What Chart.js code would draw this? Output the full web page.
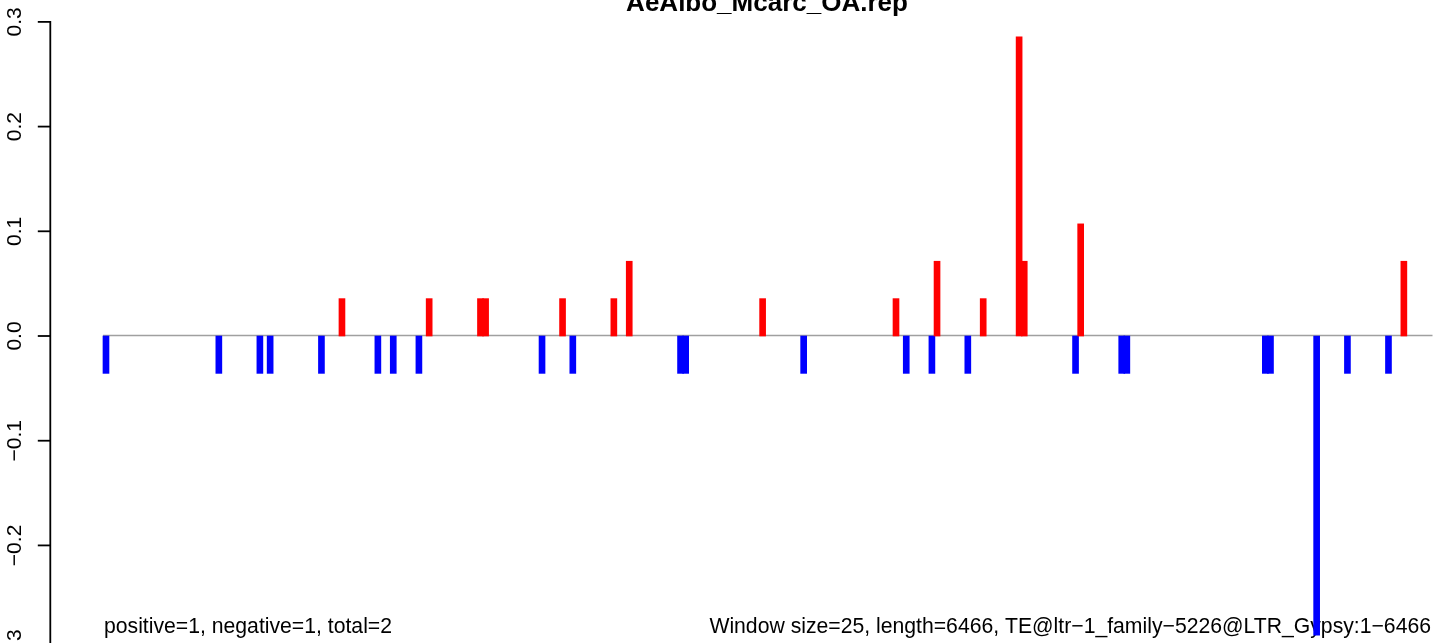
<!DOCTYPE html>
<html>
<head>
<meta charset="utf-8">
<script src="https://cdn.jsdelivr.net/npm/chart.js@4/dist/chart.umd.min.js"></script>
<style>
  html, body { margin: 0; padding: 0; background: #ffffff; }
  #wrap { width: 1433px; height: 643px; }
</style>
</head>
<body>
<div id="wrap"><canvas id="c" width="1433" height="643"></canvas></div>
<script>
// windows (25 bp each) with a positive score, and the scores
var posWindows = [47, 64, 74, 75, 90, 100, 103, 129, 155, 163, 172, 179, 180, 191, 254];
var posValues = [0.0357, 0.0357, 0.0357, 0.0357, 0.0357, 0.0357, 0.0714, 0.0357, 0.0357, 0.0714, 0.0357, 0.2857, 0.0714, 0.1071, 0.0714];

// windows with a negative score, and the scores
var negWindows = [1, 23, 31, 33, 43, 54, 57, 62, 86, 92, 113, 114, 137, 157, 162, 169, 190, 199, 200, 227, 228, 237, 243, 251];
var negValues = [-0.0357, -0.0357, -0.0357, -0.0357, -0.0357, -0.0357, -0.0357, -0.0357, -0.0357, -0.0357, -0.0357, -0.0357,
                 -0.0357, -0.0357, -0.0357, -0.0357, -0.0357, -0.0357, -0.0357, -0.0357, -0.0357, -0.2857, -0.0357, -0.0357];

var windowCount = 259;

// y axis ticks and their labels
var yTicks = [-0.3, -0.2, -0.1, 0.0, 0.1, 0.2, 0.3];
var yTickLabels = ['\u22120.3', '\u22120.2', '\u22120.1', '0.0', '0.1', '0.2', '0.3'];

var titleText = 'AeAlbo_Mcarc_OA.rep';
var leftNote = 'positive=1, negative=1, total=2';
var rightNote = 'Window size=25, length=6466, TE@ltr\u22121_family\u22125226@LTR_Gypsy:1\u22126466';

var FONT = '"Liberation Sans", Arial, Helvetica, sans-serif';

function toPoints(xs, ys) {
    var out = [];
    for (var i = 0; i < xs.length; i++) {
        out.push({ x: xs[i], y: ys[i] });
    }
    return out;
}

// R-like decorations: axis on the left, zero line, title and notes
var decor = {
    id: 'decor',
    beforeDatasetsDraw: function(chart) {
        var ctx = chart.ctx;
        var xs = chart.scales.x;
        var ys = chart.scales.y;
        var y0 = ys.getPixelForValue(0);

        ctx.save();

        // zero line
        ctx.strokeStyle = '#a0a0a0';
        ctx.lineWidth = 1.5;
        ctx.beginPath();
        ctx.moveTo(xs.getPixelForValue(1) - 3, y0 - 0.5);
        ctx.lineTo(xs.getPixelForValue(windowCount) + 3, y0 - 0.5);
        ctx.stroke();

        // notes under the plot (the bars go over them)
        ctx.fillStyle = '#000000';
        ctx.font = '21.2px ' + FONT;
        ctx.textBaseline = 'alphabetic';
        ctx.textAlign = 'left';
        ctx.fillText(leftNote, 104, 633);
        ctx.textAlign = 'right';
        ctx.fillText(rightNote, 1431, 633);

        ctx.restore();
    },
    afterDraw: function(chart) {
        var ctx = chart.ctx;
        var ys = chart.scales.y;
        var axisX = 50.3;
        var top = ys.getPixelForValue(yTicks[yTicks.length - 1]);
        var bottom = ys.getPixelForValue(yTicks[0]);

        ctx.save();
        ctx.strokeStyle = '#000000';
        ctx.lineWidth = 1.8;

        // axis line
        ctx.beginPath();
        ctx.moveTo(axisX, top - 0.9);
        ctx.lineTo(axisX, bottom + 0.9);
        ctx.stroke();

        // ticks and rotated labels
        ctx.fillStyle = '#000000';
        ctx.font = '21px ' + FONT;
        ctx.textAlign = 'center';
        ctx.textBaseline = 'alphabetic';
        for (var i = 0; i < yTicks.length; i++) {
            var py = ys.getPixelForValue(yTicks[i]);
            ctx.beginPath();
            ctx.moveTo(axisX - 12.5, py);
            ctx.lineTo(axisX, py);
            ctx.stroke();

            ctx.save();
            ctx.translate(21, py);
            ctx.rotate(-Math.PI / 2);
            ctx.fillText(yTickLabels[i], 0, 0);
            ctx.restore();
        }

        // title, cut by the top edge as in the source
        ctx.font = 'bold 26px ' + FONT;
        ctx.textAlign = 'center';
        ctx.fillText(titleText, 767, 11);

        ctx.restore();
    }
};

new Chart(document.getElementById('c'), {
    type: 'bar',
    data: {
        datasets: [
            {
                label: 'positive',
                data: toPoints(posWindows, posValues),
                backgroundColor: '#ff0000',
                borderWidth: 0,
                barThickness: 6,
                grouped: false
            },
            {
                label: 'negative',
                data: toPoints(negWindows, negValues),
                backgroundColor: '#0000ff',
                borderWidth: 0,
                barThickness: 6,
                grouped: false
            }
        ]
    },
    options: {
        responsive: false,
        maintainAspectRatio: false,
        animation: false,
        layout: { padding: 0 },
        plugins: {
            legend: { display: false },
            tooltip: { enabled: false },
            title: { display: false }
        },
        scales: {
            x: { type: 'linear', display: false, offset: false, min: -19.66, max: 259.68 },
            y: { display: false, min: -0.2932, max: 0.3209 }
        }
    },
    plugins: [decor]
});
</script>
</body>
</html>
